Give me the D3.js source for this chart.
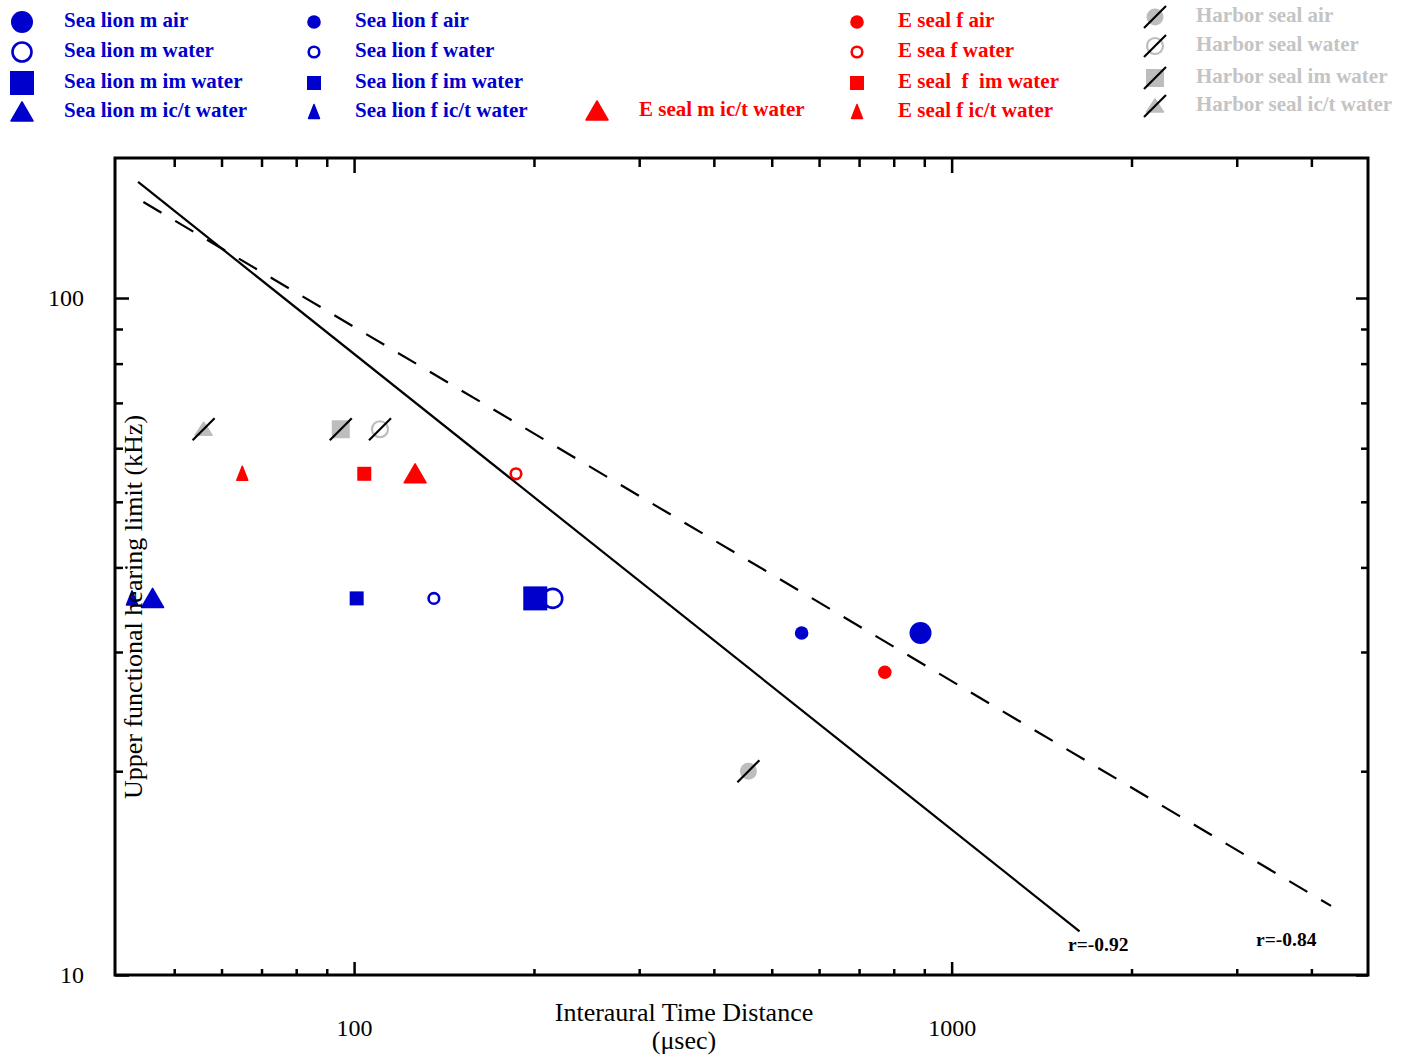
<!DOCTYPE html>
<html>
<head>
<meta charset="utf-8">
<script src="https://cdnjs.cloudflare.com/ajax/libs/d3/7.8.5/d3.min.js"></script>
<style>
  body { margin: 0; background: #fff; }
  text { font-family: "Liberation Serif", "Times New Roman", serif; }
</style>
</head>
<body>
<svg id="chart" width="1406" height="1057"></svg>
<script>
// series as listed in the legend
var seriesLabels = [
  "Sea lion m air", "Sea lion m water", "Sea lion m im water", "Sea lion m ic/t water",
  "Sea lion f air", "Sea lion f water", "Sea lion f im water", "Sea lion f ic/t water",
  "E seal m ic/t water",
  "E seal f air", "E sea f water", "E seal  f  im water", "E seal f ic/t water",
  "Harbor seal air", "Harbor seal water", "Harbor seal im water", "Harbor seal ic/t water"
];
// interaural time distance (usec)
var itdValues = [887, 215, 201, 46, 561, 136, 101, 42.5, 126.5, 773, 186.6, 104, 65, 457, 110.5, 95, 56];
// upper functional hearing limit (kHz)
var limitValues = [32, 36, 36, 36, 32, 36, 36, 36, 55, 28, 55, 55, 55, 20, 64, 64, 64];

// regression lines (end points)
var fitSolidItd = [43.5, 1637], fitSolidLimit = [148.4, 11.6];
var fitDashItd = [44.4, 4315], fitDashLimit = [138.6, 12.65];
var fitLabels = ["r=-0.92", "r=-0.84"];

var xMinorTicks = [50, 60, 70, 80, 90, 200, 300, 400, 500, 600, 700, 800, 900, 2000, 3000, 4000];
var xMajorTicks = [100, 1000];
var yMinorTicks = [20, 30, 40, 50, 60, 70, 80, 90];
var yMajorTicks = [10, 100];

// marker style per series: shape, size class, colour
var markerShape = ["circle", "ring", "square", "triangle", "circle", "ring", "square", "triangle",
  "triangle", "circle", "ring", "square", "triangle", "circle", "ring", "square", "triangle"];
var markerSize = ["big", "big", "big", "big", "small", "small", "small", "small",
  "big", "small", "small", "small", "small", "gray", "gray", "gray", "gray"];
var blue = "#0000cc", red = "#ff0000", gray = "#bdbdbd";
var markerColor = [blue, blue, blue, blue, blue, blue, blue, blue,
  red, red, red, red, red, gray, gray, gray, gray];
var legendCol = [0, 0, 0, 0, 1, 1, 1, 1, 2, 3, 3, 3, 3, 4, 4, 4, 4];
var legendRow = [0, 1, 2, 3, 0, 1, 2, 3, 3, 0, 1, 2, 3, 0, 1, 2, 3];

var svg = d3.select("#chart");
var plotLeft = 115, plotRight = 1368, plotTop = 158, plotBottom = 975;

var x = d3.scaleLog().domain([39.8, 4975]).range([plotLeft, plotRight]);
var y = d3.scaleLog().domain([10, 161]).range([plotBottom, plotTop]);

var sizes = {
  big:   {circle: 11, ring: 9.5, square: 24, tw: 22, th: 18},
  small: {circle: 6.8, ring: 5.3, square: 14, tw: 11, th: 13},
  gray:  {circle: 8.5, ring: 8, square: 18, tw: 17, th: 12}
};

function drawMarker(g, i, cx, cy) {
  var s = sizes[markerSize[i]], c = markerColor[i], sh = markerShape[i];
  if (sh === "circle") {
    g.append("circle").attr("cx", cx).attr("cy", cy).attr("r", s.circle).attr("fill", c);
  } else if (sh === "ring") {
    g.append("circle").attr("cx", cx).attr("cy", cy).attr("r", s.ring)
      .attr("fill", "none").attr("stroke", c).attr("stroke-width", markerSize[i] === "gray" ? 2.2 : 2.6);
  } else if (sh === "square") {
    g.append("rect").attr("x", cx - s.square / 2).attr("y", cy - s.square / 2)
      .attr("width", s.square).attr("height", s.square).attr("fill", c);
  } else {
    var p = d3.path();
    p.moveTo(cx, cy - s.th / 2 - 1);
    p.lineTo(cx + s.tw / 2, cy + s.th / 2);
    p.lineTo(cx - s.tw / 2, cy + s.th / 2);
    p.closePath();
    g.append("path").attr("d", p.toString()).attr("fill", c)
      .attr("stroke", c).attr("stroke-width", 1.5).attr("stroke-linejoin", "round");
  }
  if (markerSize[i] === "gray") {
    g.append("line").attr("x1", cx - 11).attr("y1", cy + 11).attr("x2", cx + 11).attr("y2", cy - 11)
      .attr("stroke", "#000").attr("stroke-width", 2.2);
  }
}

// axes: ticks drawn inward on all four sides
function tickAxis(axisFn, vals, len, scale) {
  return axisFn(scale).tickValues(vals).tickSizeInner(-len).tickSizeOuter(0);
}
var axes = svg.append("g").attr("class", "axes");

axes.append("g").attr("transform", "translate(0," + plotBottom + ")")
  .call(tickAxis(d3.axisBottom, xMinorTicks, 6, x).tickFormat(""));
axes.append("g").attr("transform", "translate(0," + plotBottom + ")")
  .call(tickAxis(d3.axisBottom, xMajorTicks, 13, x).tickFormat(d3.format("d")).tickPadding(44));
axes.append("g").attr("transform", "translate(0," + plotTop + ")")
  .call(tickAxis(d3.axisTop, xMinorTicks, 9, x).tickFormat(""));
axes.append("g").attr("transform", "translate(0," + plotTop + ")")
  .call(tickAxis(d3.axisTop, xMajorTicks, 15, x).tickFormat(""));

axes.append("g").attr("transform", "translate(" + plotLeft + ",0)")
  .call(tickAxis(d3.axisLeft, yMinorTicks, 8, y).tickFormat(""));
axes.append("g").attr("transform", "translate(" + plotLeft + ",0)")
  .call(tickAxis(d3.axisLeft, yMajorTicks, 14, y).tickFormat(d3.format("d")).tickPadding(31));
axes.append("g").attr("transform", "translate(" + plotRight + ",0)")
  .call(tickAxis(d3.axisRight, yMinorTicks, 7, y).tickFormat(""));
axes.append("g").attr("transform", "translate(" + plotRight + ",0)")
  .call(tickAxis(d3.axisRight, yMajorTicks, 12, y).tickFormat(""));

axes.selectAll(".domain").remove();
axes.selectAll(".tick line").attr("stroke", "#000").attr("stroke-width", 2.5);
axes.selectAll(".tick text").attr("font-size", 24).attr("fill", "#000")
  .attr("font-family", "Liberation Serif, serif");

// frame
svg.append("rect").attr("x", plotLeft).attr("y", plotTop)
  .attr("width", plotRight - plotLeft).attr("height", plotBottom - plotTop)
  .attr("fill", "none").attr("stroke", "#000").attr("stroke-width", 3);

// regression lines
var line = d3.line().x(function(d) { return x(d[0]); }).y(function(d) { return y(d[1]); });
svg.append("path").attr("d", line(d3.zip(fitSolidItd, fitSolidLimit)))
  .attr("fill", "none").attr("stroke", "#000").attr("stroke-width", 2.2);
svg.append("path").attr("d", line(d3.zip(fitDashItd, fitDashLimit)))
  .attr("fill", "none").attr("stroke", "#000").attr("stroke-width", 2.2)
  .attr("stroke-dasharray", "21,16");

svg.append("text").attr("x", 1068).attr("y", 951).attr("font-size", 19.5)
  .attr("font-weight", "bold").text(fitLabels[0]);
svg.append("text").attr("x", 1256).attr("y", 946).attr("font-size", 19.5)
  .attr("font-weight", "bold").text(fitLabels[1]);

// data points
var points = svg.append("g").attr("class", "points");
seriesLabels.forEach(function(d, i) {
  drawMarker(points, i, x(itdValues[i]), y(limitValues[i]));
});

// axis titles
svg.append("text").attr("transform", "translate(142,607) rotate(-90)")
  .attr("text-anchor", "middle").attr("font-size", 26).text("Upper functional hearing limit (kHz)");
svg.append("text").attr("x", 684).attr("y", 1021).attr("text-anchor", "middle")
  .attr("font-size", 26).text("Interaural Time Distance");
svg.append("text").attr("x", 684).attr("y", 1049).attr("text-anchor", "middle")
  .attr("font-size", 26).text("(\u03bcsec)");

// legend
var legMarkerX = [22, 314, 597, 857, 1155];
var legTextX = [64, 355, 639, 898, 1196];
var legRowY = [[22, 52, 83, 112], [22, 52, 83, 112], [22, 52, 83, 111], [22, 52, 83, 112], [17, 46, 78, 106]];
var legend = svg.append("g").attr("class", "legend");
seriesLabels.forEach(function(d, i) {
  var c = legendCol[i], r = legendRow[i];
  var cy = legRowY[c][r];
  drawMarker(legend, i, legMarkerX[c], cy);
  legend.append("text")
    .attr("x", legTextX[c]).attr("y", cy + 5)
    .attr("font-size", 21).attr("font-weight", "bold")
    .attr("fill", markerColor[i] === gray ? "#c4c4c4" : markerColor[i])
    .style("white-space", "pre")
    .text(d);
});
</script>
</body>
</html>
